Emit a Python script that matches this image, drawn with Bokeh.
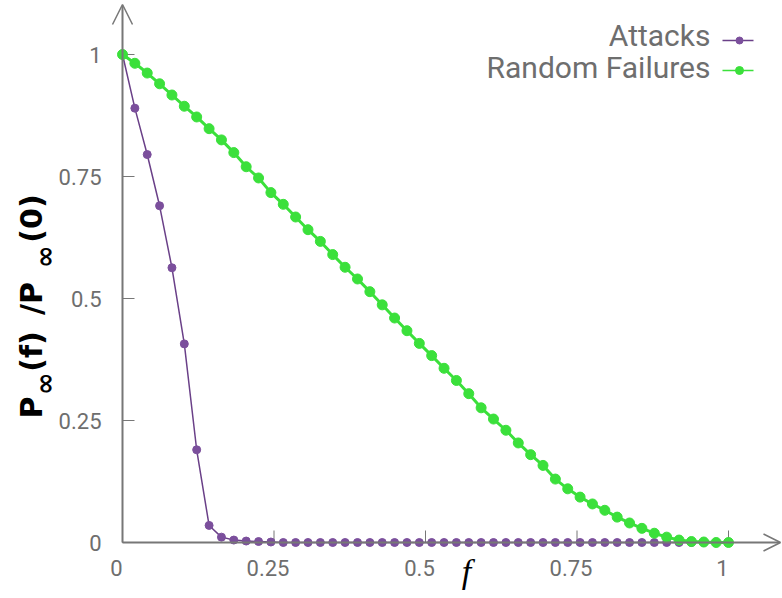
import math
from bokeh.plotting import figure
from bokeh.models import Range1d, Label, Arrow, OpenHead
from bokeh.core.properties import value
from bokeh.embed import file_html
from bokeh.resources import INLINE

# ---------------- data ----------------
f_values = [0.0, 0.0204, 0.0408, 0.0612, 0.0816, 0.1020, 0.1224, 0.1429, 0.1633, 0.1837,
            0.2041, 0.2245, 0.2449, 0.2653, 0.2857, 0.3061, 0.3265, 0.3469, 0.3673, 0.3878,
            0.4082, 0.4286, 0.4490, 0.4694, 0.4898, 0.5102, 0.5306, 0.5510, 0.5714, 0.5918,
            0.6122, 0.6327, 0.6531, 0.6735, 0.6939, 0.7143, 0.7347, 0.7551, 0.7755, 0.7959,
            0.8163, 0.8367, 0.8571, 0.8776, 0.8980, 0.9184, 0.9388, 0.9592, 0.9796, 1.0]

attacks = [1.0, 0.89, 0.795, 0.69, 0.563, 0.407, 0.19, 0.035, 0.011, 0.005,
           0.003, 0.002, 0.001, 0.0, 0.0, 0.0, 0.0, 0.0, 0.0, 0.0,
           0.0, 0.0, 0.0, 0.0, 0.0, 0.0, 0.0, 0.0, 0.0, 0.0,
           0.0, 0.0, 0.0, 0.0, 0.0, 0.0, 0.0, 0.0, 0.0, 0.0,
           0.0, 0.0, 0.0, 0.0, 0.0, 0.0, 0.0, 0.0, 0.0, 0.0]

random_failures = [1.0, 0.982, 0.962, 0.940, 0.917, 0.894, 0.872, 0.848, 0.825, 0.799,
                   0.770, 0.747, 0.717, 0.693, 0.667, 0.641, 0.617, 0.590, 0.564, 0.540,
                   0.514, 0.487, 0.460, 0.434, 0.408, 0.383, 0.357, 0.332, 0.305, 0.276,
                   0.253, 0.230, 0.204, 0.180, 0.158, 0.130, 0.110, 0.093, 0.079, 0.066,
                   0.052, 0.040, 0.029, 0.019, 0.011, 0.005, 0.002, 0.001, 0.0, 0.0]

tick_values = [0, 0.25, 0.5, 0.75, 1]
tick_labels = ["0", "0.25", "0.5", "0.75", "1"]
series_names = ["Attacks", "Random Failures"]

# ---------------- styling ----------------
PURPLE = "#7b4f9c"
PURPLE_LINE = "#6a4088"
GREEN = "#3be03b"
GRAY = "#777777"
TEXT_GRAY = "#6e6e6e"

W, H = 782, 598
LEFT, BOTTOM = 122, 56          # pixel position of the origin (from left / from bottom)
XS, YS = 606.0, 488.0           # pixels per data unit


def dx(px):
    return (px - LEFT) / XS


def dy(py):
    return (H - BOTTOM - py) / YS


p = figure(width=W, height=H,
           x_range=Range1d(dx(0), dx(W)), y_range=Range1d(dy(H), dy(0)),
           x_axis_type=None, y_axis_type=None,
           output_backend="svg", toolbar_location=None,
           min_border_left=0, min_border_right=0, min_border_top=0, min_border_bottom=0)
p.outline_line_color = None
p.grid.visible = False
p.background_fill_color = "white"
p.border_fill_color = "white"

y_tip = dy(4)      # y-axis arrow tip
x_tip = dx(780)    # x-axis arrow tip

# axes with arrow heads
p.add_layout(Arrow(end=OpenHead(size=20, line_color=GRAY, line_width=1.5),
                   x_start=0, y_start=0, x_end=0, y_end=y_tip,
                   line_color=GRAY, line_width=2))
p.add_layout(Arrow(end=OpenHead(size=17, line_color=GRAY, line_width=1.5),
                   x_start=0, y_start=0, x_end=x_tip, y_end=0,
                   line_color=GRAY, line_width=2))

# tick marks (pointing inwards, 12 px)
n = len(tick_values)
tick_len_x = 12 / YS
tick_len_y = 12 / XS
p.segment(x0=tick_values, y0=[0] * n, x1=tick_values, y1=[tick_len_x] * n,
          line_color=GRAY, line_width=1)
p.segment(x0=[0] * n, y0=tick_values, x1=[tick_len_y] * n, y1=tick_values,
          line_color=GRAY, line_width=1)

# tick labels
p.text(x=tick_values, y=[0] * n, text=tick_labels,
       x_offset=-6, y_offset=25, text_align="center", text_baseline="middle",
       text_font=value("Roboto"), text_font_size=value("22px"), text_color=TEXT_GRAY)
p.text(x=[0] * n, y=tick_values, text=tick_labels,
       x_offset=-21, y_offset=0, text_align="right", text_baseline="middle",
       text_font=value("Roboto"), text_font_size=value("22px"), text_color=TEXT_GRAY)

# series
p.line(f_values, attacks, line_color=PURPLE_LINE, line_width=1.5)
p.scatter(f_values, attacks, size=8, fill_color=PURPLE, line_color=PURPLE)
p.line(f_values, random_failures, line_color=GREEN, line_width=3)
p.scatter(f_values, random_failures, size=10, fill_color=GREEN, line_color=GREEN)

# legend (text on the left, key on the right)
leg_colors = [(PURPLE_LINE, PURPLE, 7), (GREEN, GREEN, 8)]
leg_text_y = [35, 67]
leg_key_y = [40, 70]
for name, (lc, fc, sz), ty, ky in zip(series_names, leg_colors, leg_text_y, leg_key_y):
    p.add_layout(Label(x=dx(710), y=dy(ty), text=name, text_align="right",
                       text_baseline="middle", text_font="Roboto",
                       text_font_size="30px", text_color=TEXT_GRAY))
    p.line([dx(722), dx(753)], [dy(ky), dy(ky)], line_color=lc, line_width=1.5)
    p.scatter([dx(739)], [dy(ky)], size=sz, fill_color=fc, line_color=fc)

# y axis label pieces  P∞(f)/P∞(0)
pieces = [("P", 407, 31, "30px"), ("\u221e", 383, 44, "27px"), ("(f)", 351, 31, "30px"),
          ("/P", 298, 31, "30px"), ("\u221e", 256, 44, "27px"), ("(0)", 218, 31, "30px")]
for txt, cy, cx, fs in pieces:
    p.add_layout(Label(x=dx(cx), y=dy(cy), text=txt, angle=math.pi / 2,
                       text_align="center", text_baseline="middle",
                       text_font="DejaVu Sans", text_font_style="bold",
                       text_font_size=fs, text_color="black"))

# x axis label
p.add_layout(Label(x=dx(466), y=dy(571), text="f", text_align="center", text_baseline="middle",
                   text_font="Liberation Serif", text_font_style="italic",
                   text_font_size="34px", text_color="black"))

open("out.html", "w").write(file_html(p, INLINE))
